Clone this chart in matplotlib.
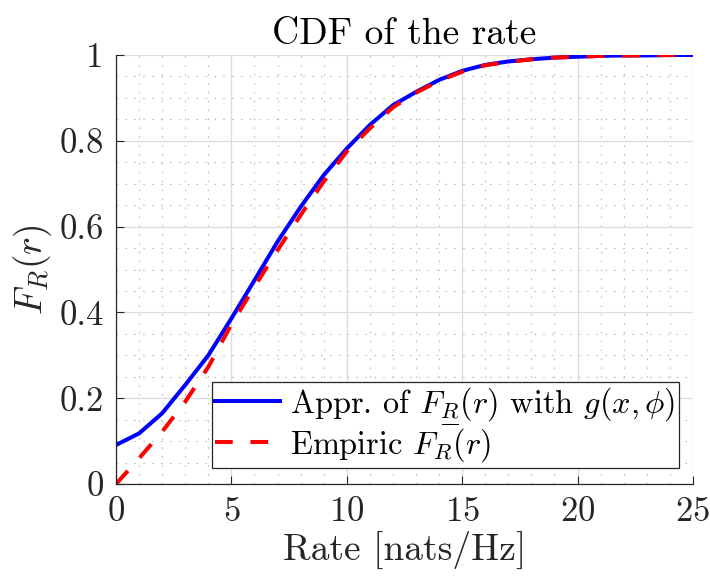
import matplotlib
matplotlib.use("Agg")
import matplotlib.pyplot as plt
import numpy as np

plt.rcParams['font.family'] = ['cmr10', 'DejaVu Serif']
plt.rcParams['mathtext.fontset'] = 'cm'
plt.rcParams['axes.unicode_minus'] = False
plt.rcParams['axes.formatter.use_mathtext'] = True

# rate values (nats/Hz)
rate = np.arange(0, 26)
# approximation with g(x, phi)
appr = [0.091, 0.118, 0.165, 0.231, 0.300, 0.386, 0.475, 0.565, 0.646, 0.720,
        0.782, 0.837, 0.883, 0.914, 0.942, 0.963, 0.977, 0.985, 0.990, 0.994,
        0.996, 0.998, 0.999, 0.999, 1.000, 1.000]
# empirical CDF
empiric = [0.000, 0.060, 0.122, 0.192, 0.273, 0.372, 0.460, 0.545, 0.627, 0.705,
           0.775, 0.829, 0.878, 0.912, 0.940, 0.961, 0.976, 0.984, 0.990, 0.994,
           0.996, 0.998, 0.999, 0.999, 1.000, 1.000]

xticks = [0, 5, 10, 15, 20, 25]
yticks = [0, 0.2, 0.4, 0.6, 0.8, 1]
yticklabels = ["0", "0.2", "0.4", "0.6", "0.8", "1"]

fig = plt.figure(figsize=(7.1, 5.84), dpi=100)
ax = fig.add_axes([0.1634, 0.1712, 0.8126, 0.7346])

ax.plot(rate, appr, color='#0000ff', lw=2.9,
        label=r"Appr. of $F_{\underset{\overline{\;\;\;\;}}{R}}(r)$ with $g(x,\phi)$")
ax.plot(rate, empiric, color='#ff0000', lw=2.9, dashes=(4.4, 4.4),
        label=r"Empiric $F_R(r)$")

ax.set_xlim(0, 25)
ax.set_ylim(0, 1)
ax.set_xticks(xticks)
ax.set_yticks(yticks)
ax.set_yticklabels(yticklabels)
ax.set_xticks(np.arange(0, 26, 1), minor=True)
ax.set_yticks(np.arange(0, 1.001, 0.05), minor=True)

ax.grid(which='major', color='#dcdcdc', lw=0.9)
ax.grid(which='minor', color='#bdbdbd', lw=0.8, linestyle=(0, (1.5, 6.5)))
ax.set_axisbelow(True)

ax.tick_params(which='both', direction='in', top=False, right=False,
               labelsize=25, colors='#262626', pad=9)
ax.tick_params(which='major', length=6, width=0.8)
ax.tick_params(which='minor', length=0)
for side in ['left', 'bottom']:
    ax.spines[side].set_color('#262626')
    ax.spines[side].set_linewidth(0.9)
for side in ['top', 'right']:
    ax.spines[side].set_visible(False)

ax.set_title("CDF of the rate", fontsize=27, pad=8)
ax.set_xlabel("Rate [nats/Hz]", fontsize=27, color='#262626', labelpad=2)
ax.set_ylabel(r"$F_R(r)$", fontsize=27, color='#262626', labelpad=4)

leg = ax.legend(loc='lower right', bbox_to_anchor=(0.976, 0.037), fontsize=23.3,
                fancybox=False, edgecolor='#262626', framealpha=1,
                borderaxespad=0, handlelength=2.0, labelspacing=0.0,
                borderpad=0.12, handletextpad=0.3)
leg.get_frame().set_linewidth(0.9)

fig.savefig("out.png", dpi=100)
